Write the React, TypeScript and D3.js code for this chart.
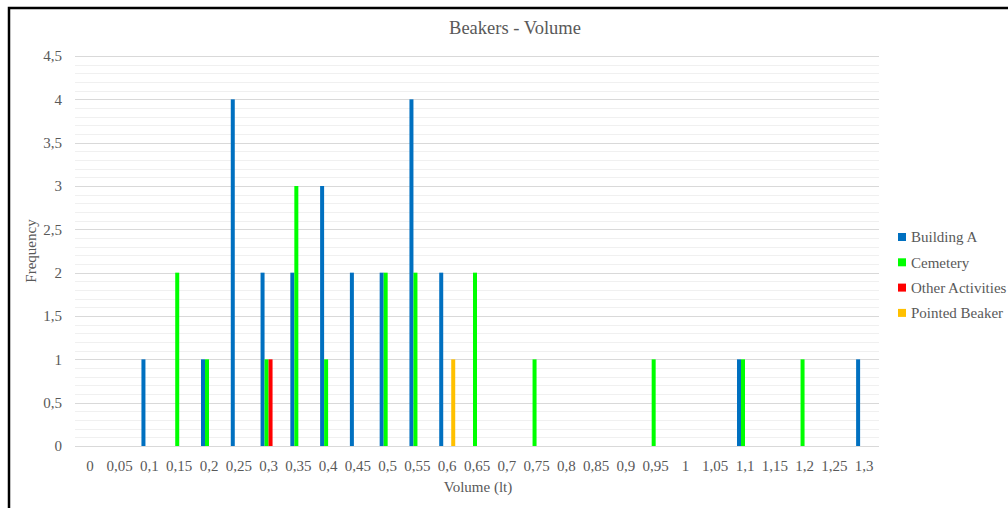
import React from "react";
import * as d3 from "d3";

// Volume classes (litres), one column group per class
const categories: number[] = [
  0, 0.05, 0.1, 0.15, 0.2, 0.25, 0.3, 0.35, 0.4, 0.45, 0.5, 0.55, 0.6, 0.65,
  0.7, 0.75, 0.8, 0.85, 0.9, 0.95, 1, 1.05, 1.1, 1.15, 1.2, 1.25, 1.3,
];

// Frequencies per volume class
const buildingA: number[] = [
  0, 0, 1, 0, 1, 4, 2, 2, 3, 2, 2, 4, 2, 0, 0, 0, 0, 0, 0, 0, 0, 0, 1, 0, 0, 0, 1,
];
const cemetery: number[] = [
  0, 0, 0, 2, 1, 0, 1, 3, 1, 0, 2, 2, 0, 2, 0, 1, 0, 0, 0, 1, 0, 0, 1, 0, 1, 0, 0,
];
const otherActivities: number[] = [
  0, 0, 0, 0, 0, 0, 1, 0, 0, 0, 0, 0, 0, 0, 0, 0, 0, 0, 0, 0, 0, 0, 0, 0, 0, 0, 0,
];
const pointedBeaker: number[] = [
  0, 0, 0, 0, 0, 0, 0, 0, 0, 0, 0, 0, 1, 0, 0, 0, 0, 0, 0, 0, 0, 0, 0, 0, 0, 0, 0,
];

const seriesNames: string[] = ["Building A", "Cemetery", "Other Activities", "Pointed Beaker"];
const seriesColors: string[] = ["#0070C0", "#00FF00", "#FF0000", "#FFC000"];
const yTicks: number[] = [0, 0.5, 1, 1.5, 2, 2.5, 3, 3.5, 4, 4.5];

const seriesValues = [buildingA, cemetery, otherActivities, pointedBeaker];

const fmt = (v: number) => String(v).replace(".", ",");

export default function App() {
  const W = 1008;
  const H = 508;
  const plot = { left: 75, right: 879, top: 56, bottom: 446 };
  const font = "'Liberation Serif', 'DejaVu Serif', serif";
  const textColor = "#595959";

  const x0 = d3
    .scaleBand<string>()
    .domain(categories.map(String))
    .range([plot.left, plot.right])
    .padding(0);
  const groupWidth = 16;
  const x1 = d3
    .scaleBand<string>()
    .domain(seriesNames)
    .range([0, groupWidth])
    .padding(0);
  const y = d3.scaleLinear().domain([0, 4.5]).range([plot.bottom, plot.top]);

  const minorTicks = d3.range(0, 45).map((i) => i / 10).filter((v) => Math.abs((v * 2) % 1) > 1e-6);

  const bw = x0.bandwidth();

  return (
    <svg
      width={W}
      height={H}
      style={{ position: "absolute", left: 0, top: 0, background: "#fff" }}
      fontFamily={font}
    >
      <rect x={0} y={0} width={W} height={H} fill="#fff" />
      {/* chart frame */}
      <rect x={9} y={8} width={1100} height={600} fill="none" stroke="#000" strokeWidth={2.5} />

      <text x={515} y={34} textAnchor="middle" fontSize={18.5} fill={textColor}>
        Beakers - Volume
      </text>

      {/* minor gridlines */}
      {minorTicks.map((t) => (
        <line
          key={"m" + t}
          x1={plot.left}
          x2={plot.right}
          y1={Math.round(y(t)) + 0.5}
          y2={Math.round(y(t)) + 0.5}
          stroke="#f0f0f0"
          strokeWidth={1}
        />
      ))}
      {/* major gridlines */}
      {yTicks.map((t) => (
        <line
          key={"g" + t}
          x1={plot.left}
          x2={plot.right}
          y1={Math.round(y(t)) + 0.5}
          y2={Math.round(y(t)) + 0.5}
          stroke="#d9d9d9"
          strokeWidth={1}
        />
      ))}

      {/* y tick labels */}
      {yTicks.map((t) => (
        <text
          key={"yl" + t}
          x={62}
          y={y(t)}
          dy="0.35em"
          textAnchor="end"
          fontSize={15}
          fill={textColor}
        >
          {fmt(t)}
        </text>
      ))}

      {/* bars */}
      {seriesValues.map((vals, si) =>
        vals.map((v, ci) =>
          v > 0 ? (
            <rect
              key={`b${si}-${ci}`}
              x={(x0(String(categories[ci])) as number) + (bw - groupWidth) / 2 + (x1(seriesNames[si]) as number)}
              y={y(v)}
              width={x1.bandwidth()}
              height={y(0) - y(v)}
              fill={seriesColors[si]}
            />
          ) : null
        )
      )}

      {/* x tick labels */}
      {categories.map((c) => (
        <text
          key={"xl" + c}
          x={(x0(String(c)) as number) + bw / 2}
          y={466}
          dy="0.35em"
          textAnchor="middle"
          fontSize={15}
          fill={textColor}
        >
          {fmt(c)}
        </text>
      ))}

      <text x={478} y={487} dy="0.35em" textAnchor="middle" fontSize={15} fill={textColor}>
        Volume (lt)
      </text>
      <text
        transform={`translate(31,${y(2.25)}) rotate(-90)`}
        textAnchor="middle"
        dy="0.35em"
        fontSize={15}
        fill={textColor}
      >
        Frequency
      </text>

      {/* legend */}
      {seriesNames.map((name, i) => {
        const ly = 237 + i * 25.3;
        return (
          <g key={"lg" + name}>
            <rect x={898} y={ly - 4} width={8} height={8} fill={seriesColors[i]} />
            <text x={911} y={ly} dy="0.35em" fontSize={15} fill={textColor}>
              {name}
            </text>
          </g>
        );
      })}
    </svg>
  );
}
